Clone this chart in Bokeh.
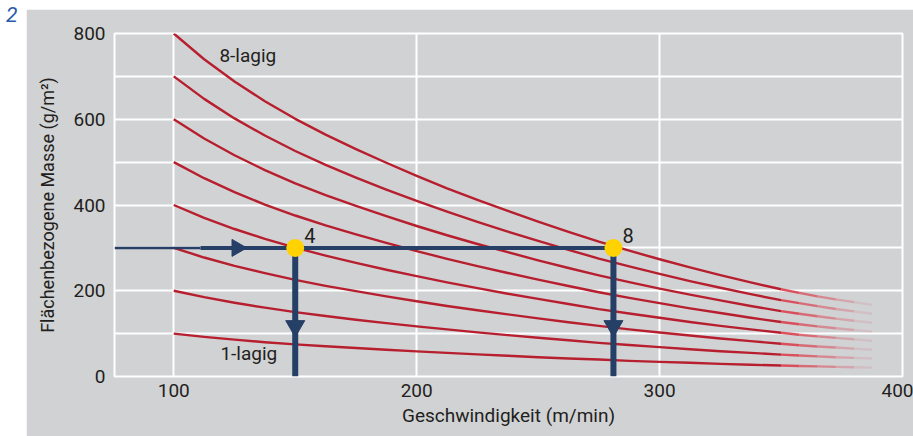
import numpy as np
from bokeh.plotting import figure
from bokeh.models import FixedTicker, Div, Range1d, Spacer
from bokeh.layouts import row, column
from bokeh.embed import file_html
from bokeh.resources import INLINE
from bokeh.core.properties import value

# ---------------- data ----------------
speed = [100, 112.5, 125, 137.5, 150, 162.5, 175, 187.5, 200, 212.5, 225,
         237.5, 250, 262.5, 275, 287.5, 300, 312.5, 325, 337.5, 350]
mass_1 = [100, 92.5, 86, 80, 75, 70.5, 66.5, 62.5, 58.5, 55, 51.5,
          48.5, 45, 42, 39.5, 36.5, 34, 32, 29.5, 27.5, 25.5]
mass_2 = [200, 185, 172, 160.5, 150, 141, 132.5, 124.5, 117, 110, 103,
          96.5, 90.5, 84.5, 78.5, 73.5, 68.5, 63.5, 59, 55, 51]
mass_3 = [300, 277.5, 258, 241, 225.5, 211.5, 199, 187, 175.5, 164.5, 154.5,
          145, 135.5, 126.5, 118, 110, 102.5, 95.5, 88.5, 82.5, 76.5]
mass_4 = [400, 370, 344, 321, 300.5, 282, 265, 249, 234, 219.5, 206,
          193, 181, 169, 157, 147, 137, 127, 118, 110, 102]
mass_5 = [500, 462.5, 430, 401, 375.5, 352.5, 331.5, 311.5, 292.5, 274.5, 257.5,
          241.5, 226, 211, 196.5, 183.5, 171, 159, 148, 137, 127]
mass_6 = [600, 555, 516, 481.5, 450.5, 423, 398, 374, 351, 329.5, 309,
          290, 271, 253, 236, 220, 205, 191, 177.5, 164.5, 152.5]
mass_7 = [700, 647.5, 602, 562, 526, 493.5, 464, 436, 409.5, 384.5, 360.5,
          338, 316.5, 295.5, 275, 257, 239.5, 222.5, 207, 192, 178]
mass_8 = [800, 740, 688, 642, 601, 564, 530.5, 498.5, 468, 439, 412,
          386.5, 361.5, 337.5, 314.5, 293.5, 273.5, 254.5, 236.5, 219.5, 203.5]

speed_fade = [350, 357.5, 365, 372.5, 380, 387.5]
fade_1 = [25.5, 24.5, 23.5, 22.5, 21.5, 21]
fade_2 = [51, 49, 47, 45, 43.5, 42]
fade_3 = [76.5, 73, 70, 67.5, 65, 62.5]
fade_4 = [102, 97.5, 93.5, 90, 87, 83.5]
fade_5 = [127, 122, 117, 112.5, 108.5, 104.5]
fade_6 = [152.5, 146.5, 140.5, 135, 130, 125.5]
fade_7 = [178, 171, 164, 157.5, 152, 146.5]
fade_8 = [203.5, 195, 187, 180, 173.5, 167]
fade_alpha = [0.9, 0.7, 0.5, 0.3, 0.12]

# working points
point_speed = [150, 281]
point_mass = [300, 300]
point_labels = ["4", "8"]
guide_split = 111          # where the horizontal guide gets thicker
arrow_right_speed = [126]
arrow_down_mass = [117.5, 117.5]

x_ticks = [100, 200, 300, 400]
y_ticks = [0, 200, 400, 600, 800]
y_grid = [0, 100, 200, 300, 400, 500, 600, 700, 800]

curve_labels = ["8-lagig", "1-lagig"]
curve_label_x = [118.8, 119.2]
curve_label_y = [748, 52.5]

# ---------------- styling ----------------
BG = "#D1D2D4"
RED = "#B71F2F"
RED_FADE = "#D9404E"
BLUE = "#263F66"
YELLOW = "#FFD200"
TXT = "#231F20"
FONT = "Roboto"

X_MIN, X_MAX = 75.6, 400

p = figure(width=887, height=427,
           x_range=Range1d(X_MIN, X_MAX), y_range=Range1d(0, 800),
           output_backend="svg", toolbar_location=None,
           min_border_left=88, min_border_right=11,
           min_border_top=24, min_border_bottom=60,
           background_fill_color=BG, border_fill_color=BG,
           outline_line_color="white", outline_line_width=2)

# grids
p.xgrid.ticker = FixedTicker(ticks=x_ticks)
p.ygrid.ticker = FixedTicker(ticks=y_grid)
for g in (p.xgrid, p.ygrid):
    g.grid_line_color = "white"
    g.grid_line_width = 2
    g.grid_line_alpha = 1.0

# axes
p.xaxis.ticker = FixedTicker(ticks=x_ticks)
p.yaxis.ticker = FixedTicker(ticks=y_ticks)
for ax in (p.xaxis, p.yaxis):
    ax.axis_line_color = None
    ax.major_tick_line_color = None
    ax.minor_tick_line_color = None
    ax.major_tick_out = 0
    ax.major_tick_in = 0
    ax.minor_tick_out = 0
    ax.major_label_text_font = FONT
    ax.major_label_text_font_size = "19px"
    ax.major_label_text_color = TXT
    ax.axis_label_text_font = FONT
    ax.axis_label_text_font_style = "normal"
    ax.axis_label_text_color = TXT
p.xaxis.axis_label_text_font_size = "19px"
p.yaxis.axis_label_text_font_size = "18px"
p.xaxis.major_label_standoff = 7
p.yaxis.major_label_standoff = 9
p.xaxis.axis_label = "Geschwindigkeit (m/min)"
p.yaxis.axis_label = "Flächenbezogene Masse (g/m²)"
p.xaxis.axis_label_standoff = 4
p.yaxis.axis_label_standoff = 12

# curves
masses = [mass_1, mass_2, mass_3, mass_4, mass_5, mass_6, mass_7, mass_8]
fades = [fade_1, fade_2, fade_3, fade_4, fade_5, fade_6, fade_7, fade_8]
for m in masses:
    p.line(speed, m, line_color=RED, line_width=2.4, line_join="round")
for f in fades:
    p.segment(x0=speed_fade[:-1], y0=f[:-1], x1=speed_fade[1:], y1=f[1:],
              line_color=RED_FADE, line_width=2.4, line_alpha=fade_alpha,
              line_cap="butt")

# guide lines
p.line([X_MIN, guide_split], [point_mass[0]] * 2, line_color=BLUE, line_width=2.5)
p.line([guide_split, point_speed[1]], [point_mass[0]] * 2, line_color=BLUE, line_width=4)
for xs, ys in zip(point_speed, point_mass):
    p.line([xs, xs], [0, ys], line_color=BLUE, line_width=6)

# arrow heads
p.scatter(arrow_right_speed, [point_mass[0]], marker="triangle", size=17,
          angle=-np.pi / 2, fill_color=BLUE, line_color=BLUE)
p.scatter(point_speed, arrow_down_mass, marker="inverted_triangle", size=19,
          fill_color=BLUE, line_color=BLUE)

# working points
p.scatter(point_speed, point_mass, size=18, fill_color=YELLOW, line_color=None)
p.text(point_speed, point_mass, text=point_labels, x_offset=9, y_offset=-12,
       text_font=value(FONT), text_font_size="20px", text_color=TXT,
       text_baseline="middle", text_align="left")

# curve labels
p.text(curve_label_x, curve_label_y, text=curve_labels,
       text_font=value(FONT), text_font_size="19px", text_color=TXT,
       text_baseline="middle", text_align="left")

fig_no = Div(text="2", width=26, height=436, margin=0,
             styles={"font-family": FONT, "font-style": "italic",
                     "font-size": "21px", "color": "#2A5CAA",
                     "padding-left": "6px", "padding-top": "5px",
                     "line-height": "21px", "box-sizing": "border-box"})
layout = row(fig_no, column(Spacer(width=887, height=9, margin=0), p, spacing=0),
             spacing=0)

open("out.html", "w").write(file_html(layout, INLINE))
